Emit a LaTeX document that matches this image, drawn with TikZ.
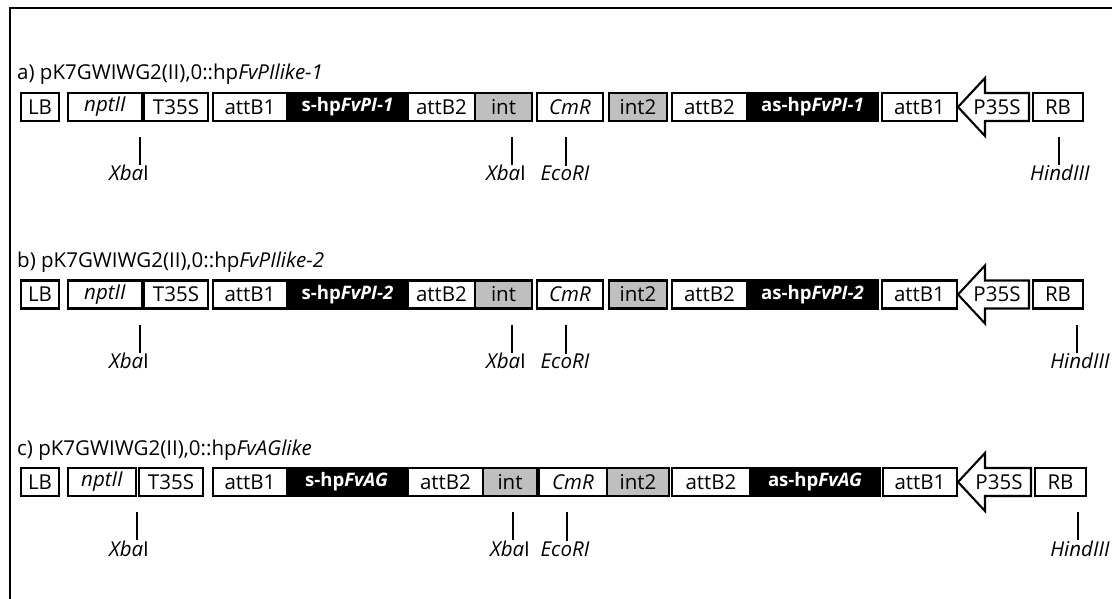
\documentclass[tikz,border=0pt]{standalone}
\usepackage{fontspec}
\setmainfont{Open Sans}
\newcommand\fs{\fontsize{20.5}{24}\selectfont}
\newcommand\fsb{\fontsize{18.6}{22}\selectfont\bfseries}
\tikzset{
  seg/.style={draw=black, line width=2.1pt, minimum height=28pt, inner sep=0pt, font=\fs, anchor=center},
  wseg/.style={seg, fill=white},
  gseg/.style={seg, fill=black!25},
  bseg/.style={seg, fill=black, text=white, font=\fsb},
  lbl/.style={font=\fs, anchor=base, inner sep=0pt},
  tick/.style={line width=2pt},
  ttl/.style={font=\fs, anchor=base west, inner sep=0pt},
  frame/.style={line width=2.2pt},
  promoter/.style={draw=black, line width=2.1pt, fill=white, line join=miter},
  plbl/.style={font=\fs, inner sep=0pt}
}
% name, x1, x2, yc, style, text
\newcommand\seg[6]{\node[#5, minimum width={(#3)-(#2)}] (#1) at ({((#2)+(#3))/2},#4) {#6};}
% prefix, tip x, back x, end x, yc
\newcommand\prom[5]{%
  \coordinate (#1-tip) at (#2,#5);
  \coordinate (#1-ht) at (#3,{#5-29});
  \coordinate (#1-hb) at (#3,{#5+29});
  \coordinate (#1-bt) at (#3,{#5-14});
  \coordinate (#1-bb) at (#3,{#5+14});
  \coordinate (#1-et) at (#4,{#5-14});
  \coordinate (#1-eb) at (#4,{#5+14});
  \draw[promoter] (#1-tip) -- (#1-ht) -- (#1-bt) -- (#1-et) -- (#1-eb) -- (#1-bb) -- (#1-hb) -- cycle;
  \node[plbl] (#1-p) at ({#4-32},#5) {P35S};}
% name, tick x, yc, label x, text
\newcommand\site[5]{%
  \coordinate (#1) at (#2,{#3+30});
  \node[lbl] (#1-l) at (#4,{#3+74}) {#5};
  \draw[tick] (#1) -- (#1 |- #1-l.north);}
\begin{document}
\begin{tikzpicture}[x=1pt,y=-1pt]
\useasboundingbox (0,0) rectangle (1112,599);
\draw[frame] (10,599) -- (10,8) -- (1112,8);

% ---------- row a
\node[ttl] (ta) at (17,80) {a) pK7GWIWG2(II),0::hp\textit{FvPIlike-1}};
\seg{a1}{21}{59}{107}{wseg}{LB}
\seg{a2}{68}{142}{107}{wseg}{\textit{nptII}}
\seg{a3}{144}{208}{107}{wseg}{T35S}
\seg{a4}{213}{287}{107}{wseg}{attB1}
\seg{a5}{287}{408}{107}{bseg}{s-hp\textit{FvPI-1}}
\seg{a6}{408}{475}{107}{wseg}{attB2}
\seg{a7}{475}{532}{107}{gseg}{int}
\seg{a8}{537}{603}{107}{wseg}{\textit{CmR}}
\seg{a9}{609}{667}{107}{gseg}{int2}
\seg{a10}{672}{747}{107}{wseg}{attB2}
\seg{a11}{747}{878}{107}{bseg}{as-hp\textit{FvPI-1}}
\seg{a12}{882}{957}{107}{wseg}{attB1}
\prom{a13}{958}{985}{1029}{107}
\seg{a14}{1033}{1083}{107}{wseg}{RB}
\site{a-s1}{140}{107}{129}{\textit{Xba}I}
\site{a-s2}{512}{107}{506}{\textit{Xba}I}
\site{a-s3}{566}{107}{565}{\textit{EcoRI}}
\site{a-s4}{1059}{107}{1060}{\textit{HindIII}}

% ---------- row b
\node[ttl] (tb) at (17,267.5) {b) pK7GWIWG2(II),0::hp\textit{FvPIlike-2}};
\seg{b1}{21}{59}{294.5}{wseg}{LB}
\seg{b2}{68}{142}{294.5}{wseg}{\textit{nptII}}
\seg{b3}{144}{208}{294.5}{wseg}{T35S}
\seg{b4}{213}{287}{294.5}{wseg}{attB1}
\seg{b5}{287}{408}{294.5}{bseg}{s-hp\textit{FvPI-2}}
\seg{b6}{408}{475}{294.5}{wseg}{attB2}
\seg{b7}{475}{532}{294.5}{gseg}{int}
\seg{b8}{537}{603}{294.5}{wseg}{\textit{CmR}}
\seg{b9}{609}{667}{294.5}{gseg}{int2}
\seg{b10}{672}{747}{294.5}{wseg}{attB2}
\seg{b11}{747}{878}{294.5}{bseg}{as-hp\textit{FvPI-2}}
\seg{b12}{882}{957}{294.5}{wseg}{attB1}
\prom{b13}{958}{985}{1029}{294.5}
\seg{b14}{1033}{1083}{294.5}{wseg}{RB}
\site{b-s1}{140}{294.5}{129}{\textit{Xba}I}
\site{b-s2}{512}{294.5}{506}{\textit{Xba}I}
\site{b-s3}{566}{294.5}{565}{\textit{EcoRI}}
\site{b-s4}{1077}{294.5}{1080}{\textit{HindIII}}

% ---------- row c
\node[ttl] (tc) at (17,455) {c) pK7GWIWG2(II),0::hp\textit{FvAGlike}};
\seg{c1}{21}{59}{482}{wseg}{LB}
\seg{c2}{68}{136}{482}{wseg}{\textit{nptII}}
\seg{c3}{139}{203}{482}{wseg}{T35S}
\seg{c4}{213}{287}{482}{wseg}{attB1}
\seg{c5}{287}{406}{482}{bseg}{s-hp\textit{FvAG}}
\seg{c6}{408}{483}{482}{wseg}{attB2}
\seg{c7}{483}{537}{482}{gseg}{int}
\seg{c8}{539}{607}{482}{wseg}{\textit{CmR}}
\seg{c9}{607}{669}{482}{gseg}{int2}
\seg{c10}{672}{750}{482}{wseg}{attB2}
\seg{c11}{750}{880}{482}{bseg}{as-hp\textit{FvAG}}
\seg{c12}{883}{957}{482}{wseg}{attB1}
\prom{c13}{958}{985}{1031}{482}
\seg{c14}{1035}{1086}{482}{wseg}{RB}
\site{c-s1}{137}{482}{129}{\textit{Xba}I}
\site{c-s2}{513}{482}{510}{\textit{Xba}I}
\site{c-s3}{567}{482}{565}{\textit{EcoRI}}
\site{c-s4}{1078}{482}{1080}{\textit{HindIII}}
\end{tikzpicture}
\end{document}
